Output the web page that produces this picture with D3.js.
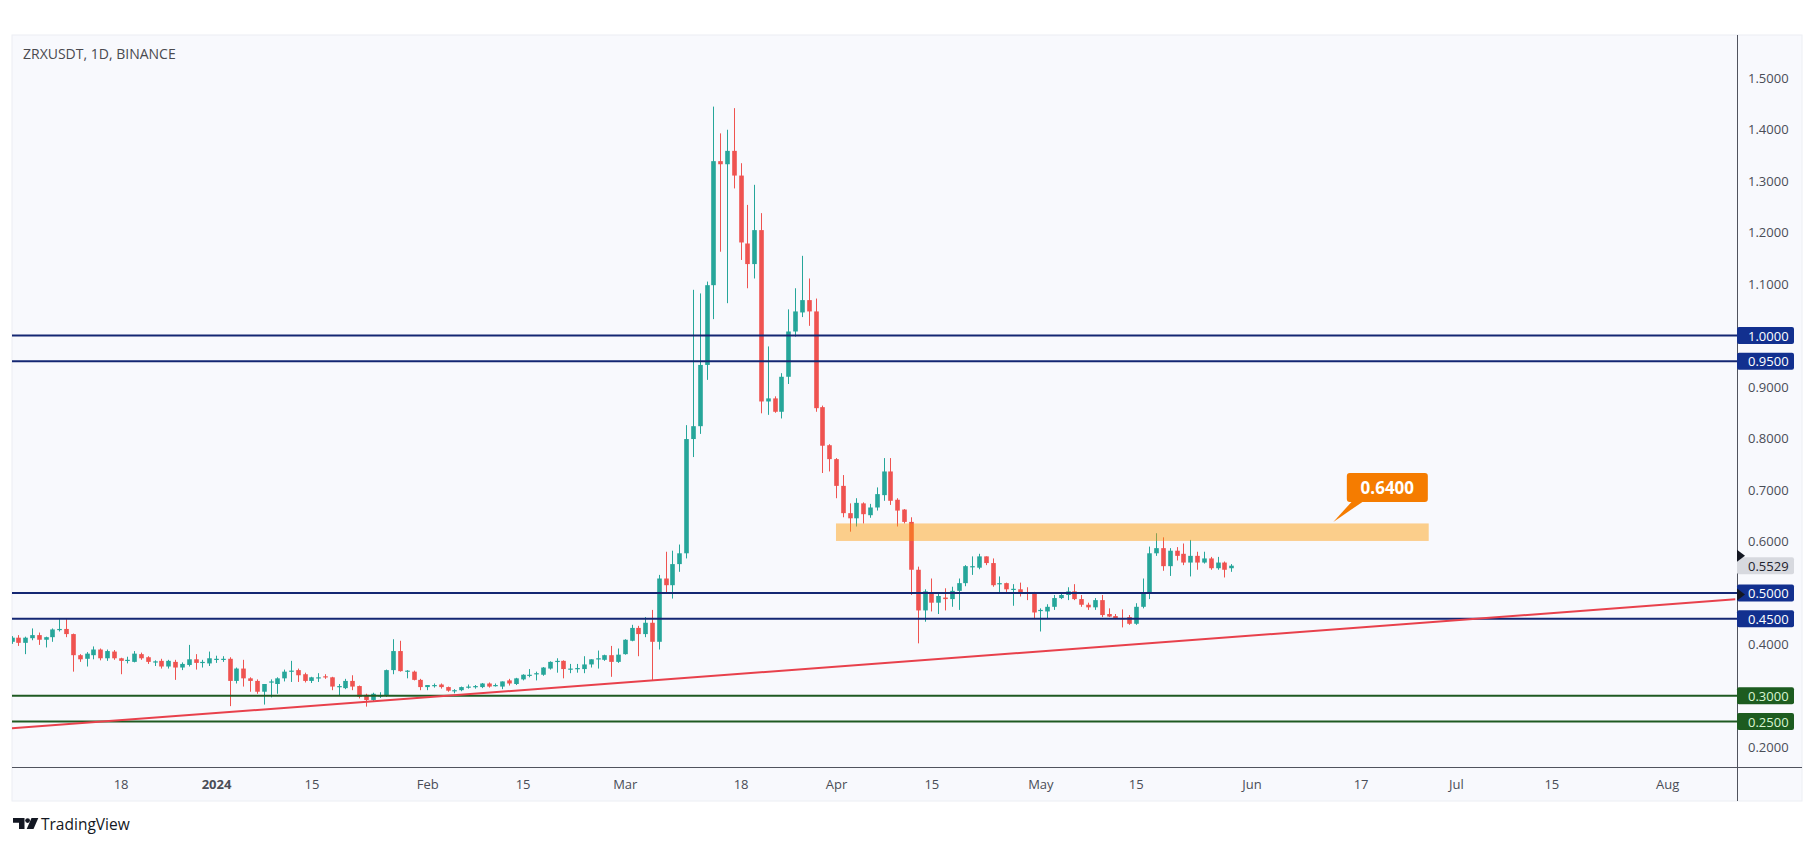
<!DOCTYPE html>
<html>
<head>
<meta charset="utf-8">
<script src="https://cdn.jsdelivr.net/npm/d3@7/dist/d3.min.js"></script>
<style>
  html, body { margin: 0; padding: 0; background: #ffffff; }
  svg text { font-family: "Open Sans", "DejaVu Sans", sans-serif; }
</style>
</head>
<body>
<svg id="chart" width="1815" height="846"></svg>
<script>
// ---- data ----
const symbolTitle = "ZRXUSDT, 1D, BINANCE";
const firstDay = "2023-12-02";   // one candle per day from here

const opens = [
  0.405,0.413,0.403,0.412,0.418,0.409,0.414,0.429,0.430,0.420,0.379,0.372,0.379,0.390,0.373,0.386,0.373,0.369,0.366,0.381,
  0.375,0.366,0.368,0.357,0.366,0.355,0.360,0.371,0.365,0.363,0.3715,0.371,0.372,0.329,0.353,0.334,0.329,0.308,0.327,0.323,
  0.334,0.349,0.350,0.342,0.329,0.336,0.338,0.336,0.319,0.315,0.329,0.319,0.302,0.292,0.300,0.300,0.350,0.387,0.349,0.347,
  0.331,0.317,0.321,0.322,0.317,0.311,0.311,0.318,0.317,0.317,0.324,0.321,0.318,0.330,0.323,0.332,0.341,0.344,0.341,0.353,
  0.368,0.368,0.353,0.353,0.352,0.361,0.373,0.370,0.379,0.366,0.381,0.407,0.432,0.420,0.442,0.405,0.528,0.515,0.556,0.577,
  0.799,0.824,0.943,1.098,1.339,1.333,1.359,1.311,1.179,1.139,1.205,0.872,0.878,0.852,0.920,1.008,1.045,1.069,1.047,0.861,
  0.787,0.760,0.708,0.655,0.645,0.674,0.651,0.666,0.690,0.736,0.681,0.662,0.638,0.545,0.466,0.501,0.481,0.491,0.488,0.504,
  0.519,0.551,0.549,0.571,0.558,0.518,0.519,0.507,0.507,0.501,0.501,0.466,0.464,0.473,0.490,0.496,0.503,0.488,0.477,0.472,
  0.486,0.459,0.455,0.451,0.453,0.440,0.473,0.498,0.577,0.587,0.552,0.582,0.576,0.559,0.572,0.559,0.567,0.548,0.559,0.548
];
const highs = [
  0.416,0.418,0.415,0.431,0.423,0.415,0.431,0.449,0.449,0.421,0.381,0.385,0.396,0.392,0.390,0.389,0.374,0.376,0.387,0.384,
  0.377,0.369,0.372,0.370,0.370,0.365,0.399,0.381,0.370,0.386,0.378,0.377,0.375,0.355,0.370,0.336,0.332,0.323,0.332,0.336,
  0.351,0.368,0.353,0.345,0.337,0.344,0.342,0.337,0.323,0.333,0.340,0.320,0.304,0.306,0.307,0.351,0.410,0.407,0.350,0.349,
  0.333,0.321,0.324,0.324,0.318,0.313,0.318,0.322,0.321,0.325,0.326,0.324,0.328,0.333,0.335,0.342,0.352,0.347,0.356,0.367,
  0.373,0.369,0.362,0.362,0.377,0.371,0.388,0.380,0.397,0.392,0.410,0.438,0.436,0.453,0.467,0.535,0.580,0.582,0.594,0.826,
  1.089,1.082,1.105,1.445,1.393,1.400,1.442,1.335,1.254,1.293,1.238,0.979,0.882,0.927,1.051,1.092,1.155,1.111,1.072,0.864,
  0.789,0.762,0.729,0.674,0.684,0.676,0.673,0.705,0.762,0.762,0.684,0.663,0.647,0.551,0.507,0.528,0.499,0.509,0.512,0.528,
  0.554,0.571,0.576,0.571,0.567,0.532,0.520,0.517,0.520,0.511,0.502,0.470,0.478,0.496,0.499,0.511,0.517,0.496,0.481,0.490,
  0.496,0.470,0.459,0.468,0.457,0.480,0.528,0.590,0.616,0.608,0.587,0.589,0.596,0.603,0.580,0.580,0.570,0.570,0.561,0.556
];
const lows = [
  0.401,0.397,0.381,0.408,0.399,0.394,0.405,0.425,0.414,0.347,0.366,0.357,0.371,0.369,0.368,0.370,0.342,0.363,0.365,0.370,
  0.362,0.358,0.353,0.353,0.331,0.350,0.357,0.351,0.355,0.358,0.364,0.366,0.280,0.324,0.318,0.308,0.304,0.283,0.297,0.304,
  0.328,0.327,0.327,0.326,0.325,0.327,0.333,0.311,0.300,0.313,0.311,0.295,0.279,0.290,0.296,0.298,0.342,0.347,0.334,0.330,
  0.311,0.311,0.316,0.314,0.308,0.305,0.309,0.314,0.314,0.315,0.316,0.318,0.313,0.320,0.321,0.330,0.336,0.330,0.339,0.351,
  0.345,0.334,0.344,0.345,0.344,0.355,0.353,0.368,0.337,0.364,0.380,0.406,0.377,0.414,0.330,0.390,0.498,0.489,0.541,0.567,
  0.764,0.809,0.914,1.032,1.163,1.063,1.286,1.147,1.092,1.111,0.849,0.846,0.850,0.839,0.906,0.998,1.036,1.019,0.852,0.733,
  0.736,0.684,0.647,0.619,0.629,0.635,0.646,0.660,0.679,0.671,0.629,0.635,0.496,0.402,0.444,0.464,0.459,0.466,0.473,0.467,
  0.513,0.535,0.546,0.554,0.512,0.498,0.502,0.475,0.493,0.486,0.449,0.425,0.451,0.467,0.488,0.486,0.486,0.473,0.467,0.467,
  0.453,0.453,0.449,0.433,0.438,0.438,0.470,0.488,0.572,0.543,0.533,0.563,0.554,0.532,0.545,0.557,0.545,0.545,0.530,0.541
];
const closes = [
  0.413,0.403,0.413,0.418,0.409,0.414,0.429,0.430,0.420,0.379,0.371,0.382,0.390,0.373,0.387,0.373,0.368,0.370,0.382,0.373,
  0.366,0.367,0.357,0.368,0.355,0.362,0.371,0.364,0.366,0.373,0.372,0.372,0.329,0.353,0.334,0.329,0.308,0.323,0.328,0.334,
  0.347,0.349,0.340,0.329,0.336,0.336,0.336,0.318,0.319,0.329,0.318,0.298,0.292,0.304,0.301,0.350,0.387,0.348,0.349,0.331,
  0.317,0.321,0.321,0.317,0.310,0.311,0.317,0.318,0.319,0.324,0.318,0.321,0.328,0.324,0.334,0.341,0.341,0.344,0.355,0.366,
  0.368,0.352,0.353,0.354,0.361,0.371,0.373,0.379,0.366,0.380,0.409,0.432,0.420,0.442,0.405,0.528,0.515,0.556,0.577,0.799,
  0.824,0.943,1.098,1.339,1.333,1.359,1.311,1.181,1.139,1.205,0.872,0.878,0.852,0.920,1.008,1.047,1.069,1.047,0.859,0.786,
  0.760,0.708,0.655,0.645,0.675,0.653,0.666,0.692,0.736,0.679,0.660,0.638,0.545,0.466,0.503,0.481,0.494,0.488,0.504,0.519,
  0.552,0.552,0.571,0.558,0.515,0.519,0.507,0.508,0.498,0.498,0.462,0.467,0.473,0.490,0.496,0.503,0.488,0.477,0.472,0.486,
  0.457,0.454,0.451,0.450,0.440,0.473,0.500,0.577,0.587,0.552,0.582,0.572,0.559,0.572,0.559,0.567,0.548,0.559,0.545,0.5529
];

const priceTicks = [0.2,0.3,0.4,0.5,0.6,0.7,0.8,0.9,1.0,1.1,1.2,1.3,1.4,1.5];
const timeTicks = ["2023-12-18","2024-01-01","2024-01-15","2024-02-01","2024-02-15","2024-03-01","2024-03-18","2024-04-01",
                   "2024-04-15","2024-05-01","2024-05-15","2024-06-01","2024-06-17","2024-07-01","2024-07-15","2024-08-01"];
const timeTickLabels = ["18","2024","15","Feb","15","Mar","18","Apr","15","May","15","Jun","17","Jul","15","Aug"];

const blueLevels = [1.0, 0.95, 0.5, 0.45];
const greenLevels = [0.3, 0.25];
const trendDates = ["2023-12-02", "2024-08-11"];
const trendPrices = [0.237, 0.4875];
const zoneDates = ["2024-04-01", "2024-06-27"];
const zonePrices = [0.601, 0.635];
const calloutText = "0.6400";
const calloutDate = "2024-06-13";
const calloutPrice = 0.638;
const lastPrice = 0.5529;
const markerPrices = [0.572, 0.497];

// ---- layout ----
const frameL = 12, frameT = 35, frameR = 1802, frameB = 801;
const plotR = 1737, plotB = 767;
const upColor = "#26a69a", downColor = "#ef5350";
const navy = "#142773", navyBadge = "#12308f";
const green = "#1f5a22", greenBadge = "#1d5c20";

const parse = d3.utcParse("%Y-%m-%d");
const svg = d3.select("#chart");

const x = d3.scaleUtc()
  .domain([new Date(Date.UTC(2023, 11, 2, 1, 22)), new Date(Date.UTC(2024, 7, 11, 6, 0))])
  .range([frameL, plotR]);
const y = d3.scaleLinear().domain([0.2, 1.5]).range([747.3, 78.3]);

const candles = opens.map((o, i) => ({
  date: d3.utcDay.offset(parse(firstDay), i),
  o: o, h: highs[i], l: lows[i], c: closes[i]
}));

// background frame
svg.append("rect")
  .attr("x", frameL).attr("y", frameT)
  .attr("width", frameR - frameL).attr("height", frameB - frameT)
  .attr("fill", "#f8f9fd").attr("stroke", "#eceef3");

svg.append("defs").append("clipPath").attr("id", "plotClip")
  .append("rect").attr("x", frameL).attr("y", frameT)
  .attr("width", plotR - frameL).attr("height", plotB - frameT);

const plot = svg.append("g").attr("clip-path", "url(#plotClip)");

// candles
const bodyW = 4.6;
const cg = plot.selectAll("g.candle").data(candles).enter().append("g")
  .attr("class", "candle")
  .attr("fill", d => d.c >= d.o ? upColor : downColor)
  .attr("stroke", d => d.c >= d.o ? upColor : downColor);

cg.append("line")
  .attr("x1", d => Math.round(x(d.date)) + 0.5).attr("x2", d => Math.round(x(d.date)) + 0.5)
  .attr("y1", d => y(d.h)).attr("y2", d => y(d.l))
  .attr("stroke-width", 1);

cg.append("rect")
  .attr("x", d => Math.round(x(d.date)) + 0.5 - bodyW / 2)
  .attr("y", d => y(Math.max(d.o, d.c)))
  .attr("width", bodyW)
  .attr("height", d => Math.max(1.2, Math.abs(y(d.o) - y(d.c))))
  .attr("stroke", "none");

// orange zone
plot.append("rect")
  .attr("x", x(parse(zoneDates[0])))
  .attr("y", y(zonePrices[1]))
  .attr("width", x(parse(zoneDates[1])) - x(parse(zoneDates[0])))
  .attr("height", y(zonePrices[0]) - y(zonePrices[1]))
  .attr("fill", "#ff9800").attr("opacity", 0.45);

// horizontal levels
plot.selectAll("line.blue").data(blueLevels).enter().append("line")
  .attr("x1", frameL).attr("x2", plotR)
  .attr("y1", d => y(d)).attr("y2", d => y(d))
  .attr("stroke", navy).attr("stroke-width", 2);

plot.selectAll("line.green").data(greenLevels).enter().append("line")
  .attr("x1", frameL).attr("x2", plotR)
  .attr("y1", d => y(d)).attr("y2", d => y(d))
  .attr("stroke", green).attr("stroke-width", 2);

// trend line
plot.append("line")
  .attr("x1", x(parse(trendDates[0]))).attr("y1", y(trendPrices[0]))
  .attr("x2", x(parse(trendDates[1]))).attr("y2", y(trendPrices[1]))
  .attr("stroke", "#e8414c").attr("stroke-width", 2);

// callout 0.6400
const ax = x(parse(calloutDate)), ay = y(calloutPrice);
const callout = svg.append("g");
callout.append("polygon")
  .attr("points", [[ax, ay], [ax + 20, ay - 22], [ax + 32, ay - 22]].map(p => p.join(",")).join(" "))
  .attr("fill", "#f57c00");
callout.append("rect")
  .attr("x", ax + 13.5).attr("y", ay - 49)
  .attr("width", 81).attr("height", 29).attr("rx", 3)
  .attr("fill", "#f57c00");
callout.append("text")
  .attr("x", ax + 54).attr("y", ay - 34.5)
  .attr("text-anchor", "middle").attr("dominant-baseline", "central")
  .attr("font-size", 17).attr("font-weight", "bold").attr("fill", "#ffffff")
  .text(calloutText);

// axes frame lines
svg.append("line").attr("x1", frameL).attr("x2", frameR).attr("y1", plotB + 0.5).attr("y2", plotB + 0.5)
  .attr("stroke", "#50535e");
svg.append("line").attr("x1", plotR + 0.5).attr("x2", plotR + 0.5).attr("y1", frameT).attr("y2", frameB)
  .attr("stroke", "#50535e");

// price axis
const yAxis = svg.append("g").attr("transform", `translate(${plotR},0)`)
  .call(d3.axisRight(y).tickValues(priceTicks).tickSize(0).tickPadding(11).tickFormat(d3.format(".4f")));
yAxis.select(".domain").remove();
yAxis.selectAll("text").attr("font-size", 13).attr("fill", "#4a4d57");

// time axis
const xAxis = svg.append("g").attr("transform", `translate(0,${plotB})`)
  .call(d3.axisBottom(x).tickValues(timeTicks.map(parse)).tickSize(0).tickPadding(13)
    .tickFormat((d, i) => timeTickLabels[i]));
xAxis.select(".domain").remove();
xAxis.selectAll("text").attr("font-size", 13).attr("fill", "#4a4d57")
  .attr("font-weight", (d, i) => timeTickLabels[i] === "2024" ? "bold" : "normal");

// price badges
function badge(price, bg, fg) {
  const g = svg.append("g");
  g.append("rect").attr("x", plotR).attr("y", y(price) - 8.5)
    .attr("width", 57).attr("height", 17).attr("rx", 2).attr("fill", bg);
  g.append("text").attr("x", plotR + 11).attr("y", y(price))
    .attr("dominant-baseline", "central").attr("font-size", 13).attr("fill", fg)
    .text(d3.format(".4f")(price));
}
blueLevels.forEach(p => badge(p, navyBadge, "#ffffff"));
greenLevels.forEach(p => badge(p, greenBadge, "#d8f5d2"));
badge(lastPrice, "#d7d9df", "#1e222d");

// small black markers on the price scale
svg.selectAll("polygon.marker").data(markerPrices).enter().append("polygon")
  .attr("points", d => `${plotR},${y(d) - 6} ${plotR + 8},${y(d)} ${plotR},${y(d) + 6}`)
  .attr("fill", "#131722");

// title
svg.append("text").attr("x", 23).attr("y", 59)
  .attr("font-size", 14).attr("fill", "#4a4a4f")
  .text(symbolTitle);

// TradingView footer
const logo = svg.append("g").attr("fill", "#131722");
logo.append("path").attr("d", "M13,818h11.5v11h-5.5v-6.2h-6z");
logo.append("circle").attr("cx", 27.6).attr("cy", 820.6).attr("r", 2.4);
logo.append("path").attr("d", "M31.5,818h6.8l-4.8,11h-6.8z");
logo.append("text").attr("x", 41).attr("y", 830)
  .attr("font-size", 15.5).attr("fill", "#131722")
  .text("TradingView");
</script>
</body>
</html>
